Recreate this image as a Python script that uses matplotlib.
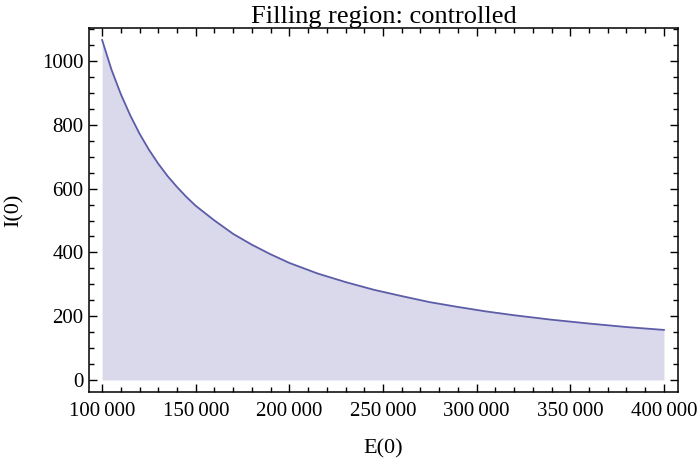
import matplotlib
matplotlib.use("Agg")
import matplotlib.pyplot as plt
from matplotlib.ticker import MultipleLocator, FuncFormatter

plt.rcParams['font.family'] = ['Liberation Serif', 'DejaVu Serif']

# values
E0 = [100000, 105000, 110000, 115000, 120000, 125000, 130000, 135000,
      140000, 145000, 150000, 160000, 170000, 180000, 190000, 200000,
      215000, 230000, 245000, 260000, 275000, 290000, 305000, 320000,
      340000, 360000, 380000, 400000]
I0 = [1066, 973, 896, 830, 772, 722, 678, 639,
      605, 574, 546, 500, 458, 424, 394, 367,
      334, 307, 283, 263, 244, 229, 215, 203,
      189, 177, 166, 157]

line_col = (0.36, 0.36, 0.66)
fill_col = (0.85, 0.85, 0.92)

fig = plt.figure(figsize=(7, 4.63), dpi=100)
ax = fig.add_axes([89 / 700, 1 - 392 / 463, 589 / 700, 364 / 463])

ax.fill_between(E0, I0, 0, color=fill_col, linewidth=0)
ax.plot(E0, I0, color=line_col, linewidth=1.3)

ax.set_xlim(93000, 407500)
ax.set_ylim(-37.6, 1103.5)

ax.xaxis.set_major_locator(MultipleLocator(50000))
ax.xaxis.set_minor_locator(MultipleLocator(10000))
ax.yaxis.set_major_locator(MultipleLocator(200))
ax.yaxis.set_minor_locator(MultipleLocator(50))
ax.xaxis.set_major_formatter(FuncFormatter(lambda v, p: f"{int(v):,}".replace(",", "\u2009")))

ax.tick_params(which='both', direction='in', top=True, right=True, width=1.0,
               labelsize=15, colors='black')
ax.tick_params(which='major', length=6)
ax.tick_params(which='minor', length=3.5)
ax.tick_params(axis='x', pad=7)
ax.tick_params(axis='y', pad=4)

for s in ax.spines.values():
    s.set_linewidth(1.1)

ax.set_title('Filling region: controlled', fontsize=19, pad=1)
ax.set_xlabel('E(0)', fontsize=16, labelpad=13)
ax.set_ylabel('I(0)', fontsize=16, labelpad=13)

fig.savefig('out.png', dpi=100)
